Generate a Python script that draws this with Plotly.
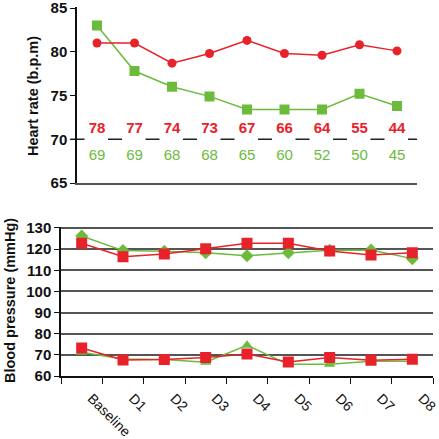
import plotly.graph_objects as go

days = ["Baseline", "D1", "D2", "D3", "D4", "D5", "D6", "D7", "D8"]

# heart rate (b.p.m)
hr_red = [81.0, 81.0, 78.7, 79.8, 81.3, 79.8, 79.6, 80.8, 80.1]
hr_green = [83.0, 77.8, 76.0, 74.9, 73.4, 73.4, 73.4, 75.2, 73.8]

# numbers printed above / below the dashed line
n_red = [78, 77, 74, 73, 67, 66, 64, 55, 44]
n_green = [69, 69, 68, 68, 65, 60, 52, 50, 45]

# blood pressure (mmHg)
sys_green = [126.2, 119.3, 119.0, 118.3, 116.9, 118.3, 119.5, 119.6, 115.5]
sys_red = [122.8, 116.4, 117.7, 120.2, 122.8, 122.8, 119.1, 117.2, 118.3]
dia_green = [71.2, 68.0, 67.8, 66.5, 74.5, 65.5, 65.5, 67.0, 67.0]
dia_red = [73.2, 67.6, 67.8, 68.8, 70.4, 66.6, 68.8, 67.5, 67.9]

RED = "#e8222a"
GREEN = "#6cbb3c"
W, H = 439, 439

fig = go.Figure()

# top panel
fig.add_trace(go.Scatter(x=days, y=hr_green, mode="lines+markers",
                         line=dict(color=GREEN, width=1.5),
                         marker=dict(symbol="square", size=10, color=GREEN),
                         xaxis="x", yaxis="y"))
fig.add_trace(go.Scatter(x=days, y=hr_red, mode="lines+markers",
                         line=dict(color=RED, width=1.5),
                         marker=dict(symbol="circle", size=9, color=RED),
                         xaxis="x", yaxis="y"))
fig.add_trace(go.Scatter(x=days, y=[71.1] * len(days), mode="text",
                         text=[str(v) for v in n_red],
                         textfont=dict(family="Liberation Sans", size=15, color=RED, weight="bold"),
                         xaxis="x", yaxis="y"))
fig.add_trace(go.Scatter(x=days, y=[68.1] * len(days), mode="text",
                         text=[str(v) for v in n_green],
                         textfont=dict(family="Liberation Sans", size=15, color=GREEN),
                         xaxis="x", yaxis="y"))

# bottom panel
for ys, col, sym, sz in [(sys_green, GREEN, "diamond", 10), (dia_green, GREEN, "triangle-up", 10),
                         (sys_red, RED, "square", 11), (dia_red, RED, "square", 11)]:
    fig.add_trace(go.Scatter(x=days, y=ys, mode="lines+markers",
                             line=dict(color=col, width=1.5),
                             marker=dict(symbol=sym, size=sz, color=col),
                             xaxis="x2", yaxis="y2"))

tickfont = dict(family="Liberation Sans", size=15, color="#111", weight="bold")

# ranges stretched a hair past the top tick so its gridline gets drawn
top_rng = [65, 85.15]
bot_rng = [60, 130.6]

fig.update_layout(
    width=W, height=H,
    margin=dict(l=0, r=0, t=0, b=0, autoexpand=False),
    paper_bgcolor="white", plot_bgcolor="white",
    showlegend=False,
    xaxis=dict(domain=[77 / W, 417 / W], range=[-0.533, 8.533], anchor="y",
               automargin=False,
               showticklabels=False, showgrid=False, zeroline=False,
               showline=True, linecolor="#555", linewidth=2, ticks=""),
    yaxis=dict(domain=[1 - 183 / H, 1 - 6.7 / H], range=top_rng, anchor="x",
               automargin=False, dtick=5, showgrid=False, zeroline=False,
               showline=True, linecolor="#111", linewidth=1.5, ticklabeloverflow="allow",
               ticks="outside", ticklen=5, tickcolor="#111", tickfont=tickfont),
    # solid gridlines only (70 is drawn dashed below)
    yaxis3=dict(overlaying="y", range=top_rng, tickvals=[75, 80, 85],
                showgrid=True, gridcolor="#222", gridwidth=1.3, zeroline=False,
                showticklabels=False, showline=False, ticks="", automargin=False),
    xaxis2=dict(domain=[61 / W, 433 / W], range=[-0.5, 8.5], anchor="y2",
                automargin=False, ticklabeloverflow="allow",
                type="category", tickson="boundaries", ticks="outside", ticklen=6,
                tickcolor="#111", tickangle=45, showgrid=False, zeroline=False,
                ticklabelshift=10, ticklabelstandoff=7,
                showline=True, linecolor="#111", linewidth=1.5,
                tickfont=dict(family="Liberation Sans", size=14, color="#111")),
    yaxis2=dict(domain=[1 - 376 / H, 1 - 226.7 / H], range=bot_rng, dtick=10, anchor="x2",
                automargin=False, ticklabeloverflow="allow",
                showgrid=True, gridcolor="#555", gridwidth=1.5, zeroline=False,
                showline=True, linecolor="#111", linewidth=1.5,
                ticks="outside", ticklen=5, tickcolor="#111", tickfont=tickfont),
)

fig.add_shape(type="line", xref="x domain", yref="y", x0=-6.5 / 340, x1=1, y0=70, y1=70,
              line=dict(color="#222", width=1.5, dash="14px,23.5px"), layer="below")

fig.add_annotation(text="Heart rate (b.p.m)", textangle=-90, x=33 / W, y=1 - 96 / H,
                   xref="paper", yref="paper", xanchor="center", yanchor="middle",
                   showarrow=False,
                   font=dict(family="Liberation Sans", size=14.5, color="#111", weight="bold"))
fig.add_annotation(text="Blood pressure (mmHg)", textangle=-90, x=10 / W, y=1 - 301 / H,
                   xref="paper", yref="paper", xanchor="center", yanchor="middle",
                   showarrow=False,
                   font=dict(family="Liberation Sans", size=14.5, color="#111", weight="bold"))

fig.write_html("out.html", config={"displayModeBar": False},
               post_script="document.body.style.margin='0px';")
